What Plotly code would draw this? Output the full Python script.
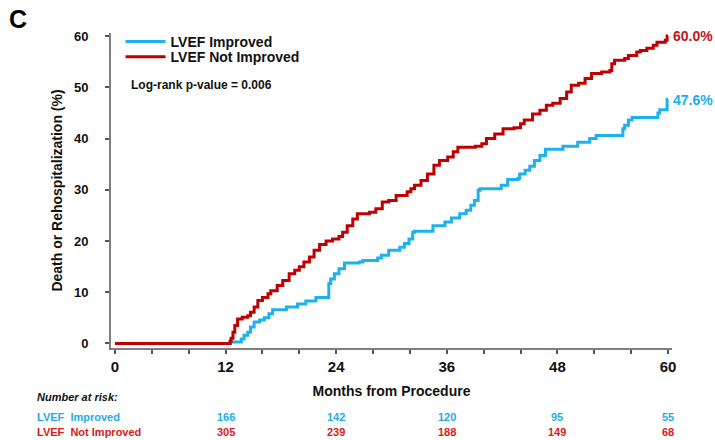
import plotly.graph_objects as go

# ---------------- data ----------------
imp_months = [0, 12.5, 13.7, 14.0, 14.4, 14.7, 15.1, 15.7, 16.2, 16.7, 17.1, 18.6, 19.8, 20.7,
              21.8, 23.2, 23.4, 23.8, 24.3, 24.9, 26.5, 26.9, 28.5, 28.9, 29.7, 30.9, 31.4,
              31.9, 32.3, 32.5, 34.5, 35.8, 36.5, 37.4, 38.1, 38.6, 39.0, 39.4, 39.6, 41.9,
              42.6, 43.7, 43.9, 44.5, 45.0, 45.5, 46.1, 46.7, 48.6, 50.2, 51.5, 52.2, 55.1,
              55.3, 55.7, 56.1, 58.9, 59.1, 59.9, 60.0]
imp_pct = [0, 0.3, 0.9, 1.6, 2.2, 3.2, 4.2, 4.6, 5.0, 5.8, 6.6, 7.1, 7.7, 8.3,
           9.0, 11.7, 12.6, 13.6, 14.6, 15.7, 15.9, 16.2, 16.7, 17.2, 18.2, 18.8, 19.5,
           20.4, 21.7, 21.9, 23.0, 23.7, 24.5, 25.3, 26.0, 27.0, 27.9, 29.9, 30.2, 30.9,
           32.0, 32.2, 33.1, 33.8, 34.6, 35.7, 36.7, 37.9, 38.5, 39.3, 40.0, 40.6, 41.9,
           42.6, 43.6, 44.1, 45.0, 45.6, 47.6, 47.6]

notimp_months = [0, 12.5, 12.6, 12.8, 13.0, 13.3, 13.8, 14.4, 14.7, 15.1, 15.5, 16.0, 16.6, 16.9,
                 17.6, 18.2, 18.9, 19.5, 20.0, 20.5, 21.1, 21.6, 22.2, 22.9, 23.6, 24.3, 24.7,
                 25.2, 25.8, 26.3, 27.6, 28.3, 29.0, 29.7, 30.5, 31.7, 32.1, 32.5, 33.2, 33.9,
                 34.6, 35.2, 36.1, 36.7, 37.2, 39.1, 39.8, 40.3, 41.2, 42.1, 43.3, 44.0, 44.4,
                 45.3, 46.1, 46.8, 47.5, 48.3, 49.0, 49.5, 50.3, 51.0, 51.7, 52.8, 53.7, 53.9,
                 54.2, 55.3, 55.7, 56.6, 57.0, 57.7, 58.4, 58.8, 59.7, 59.9, 60.0]
notimp_pct = [0, 0.5, 1.0, 2.2, 3.5, 4.8, 5.1, 5.4, 6.1, 7.1, 8.4, 9.0, 9.7, 10.3,
              11.3, 12.3, 13.6, 14.3, 15.0, 15.9, 16.9, 18.2, 19.3, 20.0, 20.4, 20.9, 21.7,
              23.0, 24.3, 25.3, 25.6, 26.3, 27.6, 27.9, 28.9, 29.6, 30.2, 30.9, 31.8, 33.1,
              34.8, 35.7, 36.4, 37.4, 38.3, 38.5, 39.0, 40.0, 40.9, 41.9, 42.1, 42.9, 43.6,
              44.8, 45.5, 46.5, 46.9, 47.8, 49.1, 50.4, 50.8, 51.7, 52.7, 53.0, 53.3, 54.6,
              55.3, 55.6, 56.2, 56.9, 57.2, 57.6, 58.2, 58.8, 59.2, 60.0, 60.0]

x_ticks = [0, 12, 24, 36, 48, 60]
y_ticks = [0, 10, 20, 30, 40, 50, 60]
risk_months = [12, 24, 36, 48, 60]
risk_improved = [166, 142, 120, 95, 55]
risk_not_improved = [305, 239, 188, 149, 68]

series_names = ["LVEF Improved", "LVEF Not Improved"]
row_labels = ["LVEF&nbsp; Improved", "LVEF&nbsp; Not Improved"]

# ---------------- style ----------------
FONT = "Liberation Sans, Arial, sans-serif"
BLUE = "#1DB1EE"
RED = "#C00000"
BLUE_TXT = "#23ACE6"
RED_TXT = "#D71920"
AXIS = "#7F7F7F"

fig = go.Figure()
fig.add_trace(go.Scatter(x=imp_months, y=imp_pct, mode="lines", name=f"<b>{series_names[0]}</b>",
                         legend="legend",
                         line=dict(color=BLUE, width=3, shape="hv")))
fig.add_trace(go.Scatter(x=notimp_months, y=notimp_pct, mode="lines", name=f"<b>{series_names[1]}</b>",
                         legend="legend2",
                         line=dict(color=RED, width=3, shape="hv")))

annotations = []
# panel letter
annotations.append(dict(text="<b>C</b>", xref="paper", yref="paper", x=-0.185, y=1.045,
                        xanchor="left", yanchor="middle", showarrow=False,
                        font=dict(family=FONT, size=25, color="#000000")))
# log-rank
annotations.append(dict(text="<b>Log-rank p-value = 0.006</b>", xref="paper", yref="paper",
                        x=0.032, y=0.835, xanchor="left", yanchor="middle", showarrow=False,
                        font=dict(family=FONT, size=12, color="#111111")))
# end labels
annotations.append(dict(text=f"<b>{notimp_pct[-1]:.1f}%</b>", x=notimp_months[-1], y=notimp_pct[-1],
                        xref="x", yref="y", xanchor="left", yanchor="middle", xshift=3,
                        showarrow=False, font=dict(family=FONT, size=14, color="#C0141C")))
annotations.append(dict(text=f"<b>{imp_pct[-1]:.1f}%</b>", x=imp_months[-1], y=imp_pct[-1],
                        xref="x", yref="y", xanchor="left", yanchor="middle", xshift=3,
                        showarrow=False, font=dict(family=FONT, size=14, color="#1AAEEA")))
# number at risk
annotations.append(dict(text="<b><i>Number at risk:</i></b>", xref="paper", yref="paper",
                        x=-0.1355, y=-0.157, xanchor="left", yanchor="middle", showarrow=False,
                        font=dict(family=FONT, size=11, color="#111111")))
row_y = [-0.218, -0.267]
row_colors = [BLUE_TXT, RED_TXT]
for lab, ry, col in zip(row_labels, row_y, row_colors):
    annotations.append(dict(text=f"<b>{lab}</b>", xref="paper", yref="paper", x=-0.1355, y=ry,
                            xanchor="left", yanchor="middle", showarrow=False,
                            font=dict(family=FONT, size=11, color=col)))
for vals, ry, col in zip([risk_improved, risk_not_improved], row_y, row_colors):
    for m, v in zip(risk_months, vals):
        annotations.append(dict(text=f"<b>{v}</b>", xref="x", yref="paper", x=m, y=ry,
                                xanchor="center", yanchor="middle", showarrow=False,
                                font=dict(family=FONT, size=11, color=col)))

legend_common = dict(xanchor="left", yanchor="middle", bgcolor="rgba(0,0,0,0)", borderwidth=0,
                     font=dict(family=FONT, size=14, color="#111111"), itemwidth=40)

fig.update_layout(
    width=715, height=440,
    margin=dict(l=111, r=43, t=33, b=92, pad=0),
    paper_bgcolor="white", plot_bgcolor="white",
    font=dict(family=FONT, color="#111111"),
    showlegend=True,
    legend=dict(x=0.017, y=0.9714, **legend_common),
    legend2=dict(x=0.017, y=0.9237, **legend_common),
    annotations=annotations,
    xaxis=dict(range=[-0.43, 60.43], tickvals=x_ticks, ticktext=[f"<b>{t}</b>" for t in x_ticks],
               showgrid=False, zeroline=False, showline=True, linecolor=AXIS, linewidth=2,
               ticks="outside", ticklen=4, tickwidth=1.5, tickcolor="#555555",
               tickfont=dict(family=FONT, size=15, color="#111111"),
               minor=dict(dtick=4, tick0=0, ticks="outside", ticklen=4, tickwidth=1.5,
                          tickcolor="#555555", showgrid=False),
               title=dict(text="<b>Months from Procedure</b>", standoff=12,
                          font=dict(family=FONT, size=14, color="#111111"))),
    yaxis=dict(range=[-0.88, 60.6], tickvals=y_ticks, ticktext=[f"<b>{t}</b>" for t in y_ticks],
               showgrid=False, zeroline=False, showline=True, linecolor=AXIS, linewidth=2,
               ticks="outside", ticklen=4, tickwidth=1.5, tickcolor="#555555",
               ticklabelstandoff=14,
               tickfont=dict(family=FONT, size=13, color="#111111"),
               title=dict(text="<b>Death or Rehospitalization (%)</b>", standoff=8,
                          font=dict(family=FONT, size=14, color="#111111"))),
)

fig.write_html("out.html")
